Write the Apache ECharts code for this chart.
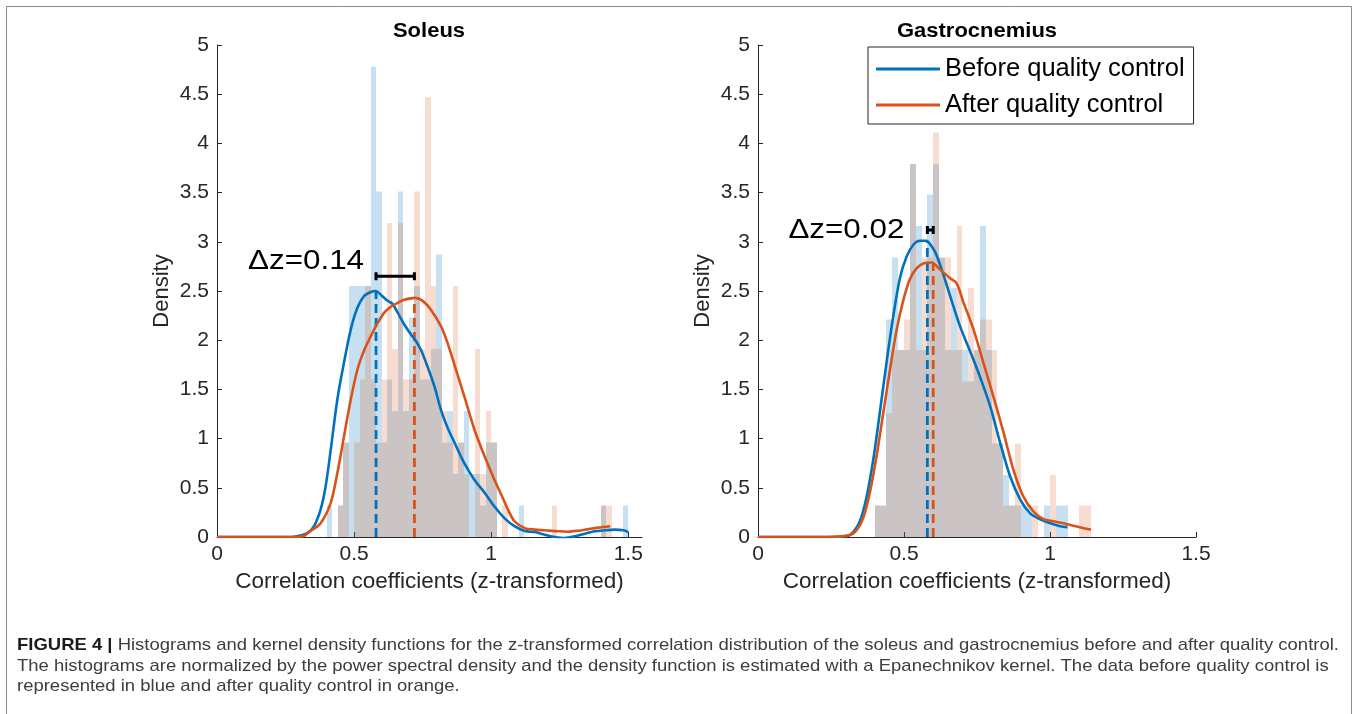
<!DOCTYPE html>
<html>
<head>
<meta charset="utf-8">
<script src="https://cdn.jsdelivr.net/npm/echarts@6/dist/echarts.min.js"></script>
<style>
  html, body { margin: 0; padding: 0; background: #ffffff; }
  #chart { width: 1357px; height: 714px; }
</style>
</head>
<body>
<div id="chart"></div>
<script>
// ---- histogram bins (density, bin width 0.02) ----
const binWidth = 0.02;

const soleusBinStart = 0.36;
const soleusBefore = [
  0, 0, 0.32, 0, 0.32, 0.96, 2.55, 2.55, 2.55, 2.55,
  4.78, 3.51, 0.96, 1.60, 1.28, 3.51, 1.28, 2.23, 2.55, 1.60,
  1.60, 1.91, 2.87, 0.96, 1.28, 0.64, 0.96, 1.28, 0.64, 0.64,
  0.32, 0.96, 0.96, 0, 0, 0, 0, 0.32, 0, 0,
  0, 0, 0, 0, 0, 0, 0, 0, 0, 0,
  0, 0, 0.32, 0, 0, 0, 0.32
];
const soleusAfter = [
  0, 0, 0, 0, 0.32, 0.96, 0, 0.96, 1.60, 2.55,
  1.60, 0.96, 1.60, 3.19, 1.91, 3.19, 1.60, 1.60, 3.51, 1.91,
  4.47, 2.55, 1.91, 1.28, 0.96, 2.55, 0.96, 0.64, 0, 1.91,
  0.64, 1.28, 0.96, 0, 0.32, 0, 0, 0, 0, 0,
  0, 0, 0, 0.32, 0, 0, 0, 0, 0, 0,
  0, 0, 0.32, 0.32, 0, 0, 0
];

const gastroBinStart = 0.40;
const gastroBefore = [
  0.32, 0.32, 2.21, 2.84, 1.90, 1.90, 3.79, 3.16, 1.90, 3.48,
  3.79, 2.84, 1.90, 2.53, 1.90, 1.90, 1.58, 1.90, 3.16, 1.90,
  0.95, 0.95, 0.63, 0.32, 0.32, 0.32, 0.32, 0, 0, 0.32,
  0, 0.32, 0.32, 0, 0, 0, 0
];
const gastroAfter = [
  0.32, 0.32, 1.26, 1.90, 1.90, 2.21, 3.79, 1.90, 2.84, 2.84,
  4.11, 2.84, 2.84, 1.90, 3.16, 1.58, 2.53, 1.90, 2.21, 2.21,
  1.90, 0.95, 0.32, 0.32, 0.95, 0, 0, 0.32, 0, 0,
  0.63, 0, 0, 0, 0, 0.32, 0.32
];

// ---- Epanechnikov kernel density estimates [z, density] ----
const soleusKdeBefore = [
  [0, 0], [0.20, 0], [0.28, 0.003], [0.329, 0.04], [0.354, 0.11], [0.378, 0.28],
  [0.396, 0.51], [0.415, 0.89], [0.439, 1.40], [0.463, 1.77], [0.488, 2.11],
  [0.512, 2.33], [0.537, 2.45], [0.561, 2.49], [0.579, 2.50], [0.598, 2.46],
  [0.622, 2.40], [0.640, 2.37], [0.659, 2.28], [0.683, 2.16], [0.707, 2.06],
  [0.726, 1.99], [0.744, 1.90], [0.768, 1.73], [0.793, 1.53], [0.817, 1.29],
  [0.841, 1.11], [0.866, 0.96], [0.902, 0.75], [0.939, 0.58], [0.976, 0.45],
  [1.012, 0.31], [1.049, 0.19], [1.085, 0.11], [1.122, 0.06], [1.159, 0.05],
  [1.195, 0.024], [1.232, 0.0], [1.268, -0.01], [1.305, 0.007], [1.341, 0.034],
  [1.378, 0.058], [1.415, 0.068], [1.451, 0.075], [1.482, 0.068], [1.500, 0.05]
];
const soleusKdeAfter = [
  [0, 0], [0.22, 0], [0.30, 0.003], [0.317, 0.01], [0.341, 0.06], [0.378, 0.14],
  [0.415, 0.35], [0.439, 0.65], [0.463, 1.02], [0.488, 1.40], [0.512, 1.70],
  [0.537, 1.90], [0.561, 2.04], [0.585, 2.17], [0.610, 2.28], [0.634, 2.34],
  [0.659, 2.38], [0.683, 2.41], [0.707, 2.425], [0.723, 2.43], [0.750, 2.40],
  [0.780, 2.31], [0.817, 2.14], [0.841, 1.97], [0.866, 1.75], [0.902, 1.43],
  [0.939, 1.09], [0.976, 0.82], [1.012, 0.58], [1.037, 0.43], [1.061, 0.28],
  [1.085, 0.16], [1.122, 0.09], [1.159, 0.075], [1.195, 0.068], [1.244, 0.058],
  [1.280, 0.054], [1.317, 0.064], [1.354, 0.08], [1.390, 0.095], [1.434, 0.11]
];
const gastroKdeBefore = [
  [0, 0], [0.22, 0], [0.303, 0.007], [0.326, 0.05], [0.349, 0.16], [0.372, 0.41],
  [0.395, 0.79], [0.417, 1.26], [0.440, 1.77], [0.463, 2.24], [0.486, 2.63],
  [0.509, 2.85], [0.532, 2.97], [0.555, 3.01], [0.575, 3.01], [0.583, 3.00],
  [0.606, 2.90], [0.629, 2.72], [0.658, 2.45], [0.692, 2.14], [0.726, 1.89],
  [0.760, 1.63], [0.795, 1.33], [0.829, 0.96], [0.863, 0.62], [0.898, 0.38],
  [0.932, 0.24], [0.966, 0.18], [1.001, 0.14], [1.035, 0.11], [1.060, 0.10]
];
const gastroKdeAfter = [
  [0, 0], [0.24, 0], [0.315, 0.02], [0.338, 0.07], [0.360, 0.19], [0.383, 0.45],
  [0.406, 0.82], [0.429, 1.26], [0.452, 1.70], [0.475, 2.11], [0.498, 2.41],
  [0.520, 2.62], [0.543, 2.73], [0.566, 2.78], [0.595, 2.79], [0.623, 2.72],
  [0.658, 2.63], [0.680, 2.58], [0.703, 2.39], [0.738, 2.11], [0.772, 1.77],
  [0.806, 1.43], [0.841, 1.06], [0.875, 0.68], [0.909, 0.41], [0.943, 0.26],
  [0.978, 0.18], [1.012, 0.16], [1.047, 0.14], [1.081, 0.115], [1.115, 0.09],
  [1.140, 0.075]
];

// ---- modes of the density estimates (before, after) and bracket height ----
const soleusModes = [0.58, 0.72];
const gastroModes = [0.58, 0.60];
const soleusBracketY = 2.65;
const gastroBracketY = 3.12;

// ---- axis ticks and text ----
const xTicks = [0, 0.5, 1, 1.5];
const panelTitles = ['Soleus', 'Gastrocnemius'];
const seriesNames = ['Before quality control', 'After quality control'];
const captionLines = [
  'Histograms and kernel density functions for the z-transformed correlation distribution of the soleus and gastrocnemius before and after quality control.',
  'The histograms are normalized by the power spectral density and the density function is estimated with a Epanechnikov kernel. The data before quality control is',
  'represented in blue and after quality control in orange.'
];

const FONT = '"Liberation Sans", Arial, Helvetica, sans-serif';
const BLUE = '#0072BD';
const ORANGE = '#D95319';
const AXIS = '#262626';
// the typeface is set slightly wide
const WIDE = 1.1;

// value of a piecewise-linear curve at z
function curveAt(curve, z) {
  for (let i = 1; i < curve.length; i++) {
    if (curve[i][0] >= z) {
      const [x0, y0] = curve[i - 1], [x1, y1] = curve[i];
      return y0 + (y1 - y0) * (z - x0) / (x1 - x0);
    }
  }
  return curve[curve.length - 1][1];
}

function histogram(start, heights, fill, axis) {
  return {
    type: 'custom',
    xAxisIndex: axis, yAxisIndex: axis,
    silent: true, z: 1,
    data: heights.map((h, i) => [start + i * binWidth, start + (i + 1) * binWidth, h]),
    encode: { x: [0, 1], y: 2 },
    renderItem: (params, api) => {
      if (!(api.value(2) > 0)) return null;
      const top = api.coord([api.value(0), api.value(2)]);
      const bottom = api.coord([api.value(1), 0]);
      const x0 = Math.round(top[0]), x1 = Math.round(bottom[0]);
      return {
        type: 'rect',
        shape: { x: x0, y: top[1], width: x1 - x0, height: bottom[1] - top[1] },
        style: { fill: fill }
      };
    }
  };
}

function kde(name, curve, color, axis) {
  return {
    type: 'line', name: name,
    xAxisIndex: axis, yAxisIndex: axis,
    data: curve, showSymbol: false, smooth: 0.3, silent: true, z: 4,
    itemStyle: { color: color },
    lineStyle: { color: color, width: 2.6 }
  };
}

function modeLine(mode, curve, color, axis) {
  return {
    type: 'line',
    xAxisIndex: axis, yAxisIndex: axis,
    data: [[mode, 0], [mode, curveAt(curve, mode)]],
    showSymbol: false, silent: true, z: 3,
    lineStyle: { color: color, width: 2.8, type: [9, 5] }
  };
}

function bracket(modes, y, axis, labelGap, labelDy) {
  return {
    type: 'custom',
    xAxisIndex: axis, yAxisIndex: axis,
    silent: true, z: 5,
    data: [[modes[0], modes[1], y]],
    encode: { x: [0, 1], y: 2 },
    renderItem: (params, api) => {
      const a = api.coord([api.value(0), api.value(2)]);
      const b = api.coord([api.value(1), api.value(2)]);
      const cap = 4;
      const st = { stroke: '#000', lineWidth: 3 };
      return {
        type: 'group',
        children: [
          { type: 'line', shape: { x1: a[0], y1: a[1], x2: b[0], y2: b[1] }, style: st },
          { type: 'line', shape: { x1: a[0], y1: a[1] - cap, x2: a[0], y2: a[1] + cap }, style: st },
          { type: 'line', shape: { x1: b[0], y1: b[1] - cap, x2: b[0], y2: b[1] + cap }, style: st },
          {
            type: 'text', x: a[0] - labelGap, y: a[1] + labelDy, scaleX: 1.12,
            style: {
              text: '\u0394z=' + (api.value(1) - api.value(0)).toFixed(2),
              align: 'right', verticalAlign: 'middle',
              fontSize: 28, fontFamily: FONT, fill: '#000'
            }
          }
        ]
      };
    }
  };
}

function xAxis(gridIndex, max) {
  return {
    type: 'value', gridIndex: gridIndex, min: 0, max: max,
    name: 'Correlation coefficients (z-transformed)',
    nameLocation: 'middle', nameGap: 33,
    nameTextStyle: { fontFamily: FONT, fontSize: 22.5, color: AXIS },
    axisLine: { show: true, onZero: false, lineStyle: { color: AXIS, width: 1 } },
    axisTick: { show: true, inside: true, length: 5, customValues: xTicks, lineStyle: { color: AXIS } },
    axisLabel: { customValues: xTicks, fontFamily: FONT, fontSize: 21, color: AXIS, margin: 7 },
    splitLine: { show: false }
  };
}

function yAxis(gridIndex) {
  return {
    type: 'value', gridIndex: gridIndex, min: 0, max: 5, interval: 0.5,
    name: 'Density', nameLocation: 'middle', nameGap: 44, nameRotate: 90,
    nameTextStyle: { fontFamily: FONT, fontSize: 22, color: AXIS },
    axisLine: { show: true, lineStyle: { color: AXIS, width: 1 } },
    axisTick: { show: true, inside: true, length: 5, lineStyle: { color: AXIS } },
    axisLabel: { fontFamily: FONT, fontSize: 21, color: AXIS, margin: 8 },
    splitLine: { show: false }
  };
}

const blueFill = 'rgba(0,114,189,0.22)';
const orangeFill = 'rgba(217,83,25,0.20)';

function captionText(y, text) {
  return {
    type: 'text', x: 17, y: y, scaleX: 1.087, silent: true,
    style: {
      text: text, verticalAlign: 'middle', fontFamily: FONT, fontSize: 17, fill: '#3d3d3d',
      rich: { b: { fontFamily: FONT, fontSize: 17, fontWeight: 'bold', fill: '#1a1a1a' } }
    }
  };
}

function titleText(x, text) {
  return {
    type: 'text', x: x, y: 31, scaleX: WIDE, silent: true,
    style: { text: text, align: 'center', verticalAlign: 'middle',
             fontFamily: FONT, fontWeight: 'bold', fontSize: 20, fill: '#000' }
  };
}

const option = {
  backgroundColor: '#ffffff',
  animation: false,
  grid: [
    { left: 217, top: 45, width: 425, height: 492 },
    { left: 758, top: 45, width: 438, height: 492 }
  ],
  xAxis: [xAxis(0, 1.55), xAxis(1, 1.5)],
  yAxis: [yAxis(0), yAxis(1)],
  legend: {
    data: seriesNames,
    orient: 'vertical',
    left: 868, top: 47,
    icon: 'rect', itemWidth: 64, itemHeight: 3, itemGap: 10,
    padding: [9, 9, 6, 8],
    borderColor: AXIS, borderWidth: 1,
    backgroundColor: '#ffffff',
    textStyle: { fontFamily: FONT, fontSize: 25.5, color: '#000', lineHeight: 26 },
    selectedMode: false
  },
  series: [
    histogram(soleusBinStart, soleusBefore, blueFill, 0),
    histogram(soleusBinStart, soleusAfter, orangeFill, 0),
    histogram(gastroBinStart, gastroBefore, blueFill, 1),
    histogram(gastroBinStart, gastroAfter, orangeFill, 1),
    modeLine(soleusModes[0], soleusKdeBefore, BLUE, 0),
    modeLine(soleusModes[1], soleusKdeAfter, ORANGE, 0),
    modeLine(gastroModes[0], gastroKdeBefore, BLUE, 1),
    modeLine(gastroModes[1], gastroKdeAfter, ORANGE, 1),
    kde(seriesNames[0], soleusKdeBefore, BLUE, 0),
    kde(seriesNames[1], soleusKdeAfter, ORANGE, 0),
    kde(seriesNames[0], gastroKdeBefore, BLUE, 1),
    kde(seriesNames[1], gastroKdeAfter, ORANGE, 1),
    bracket(soleusModes, soleusBracketY, 0, 12, -15),
    bracket(gastroModes, gastroBracketY, 1, 23, 0)
  ],
  graphic: [
    {
      type: 'rect', silent: true, z: -1,
      shape: { x: 6.5, y: 6.5, width: 1345, height: 720 },
      style: { fill: null, stroke: '#8a8a8a', lineWidth: 1 }
    },
    titleText(429, panelTitles[0]),
    titleText(977, panelTitles[1]),
    captionText(645, '{b|FIGURE 4 |} ' + captionLines[0]),
    captionText(666, captionLines[1]),
    captionText(686, captionLines[2])
  ]
};

const chart = echarts.init(document.getElementById('chart'), null, { renderer: 'canvas' });
chart.setOption(option);
</script>
</body>
</html>
